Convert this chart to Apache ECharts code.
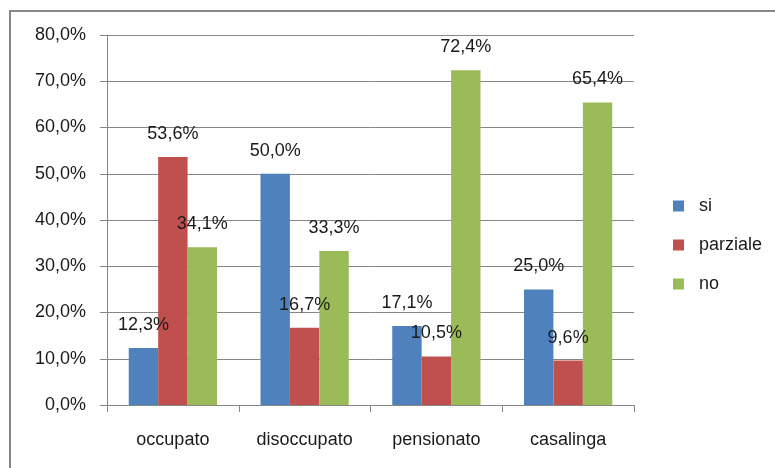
<!DOCTYPE html>
<html>
<head>
<meta charset="utf-8">
<script src="https://cdn.jsdelivr.net/npm/echarts@6/dist/echarts.min.js"></script>
<style>
  html, body { margin: 0; padding: 0; background: #fff; }
  #chart { width: 775px; height: 468px; }
</style>
</head>
<body>
<div id="chart"></div>
<script>
const categories = ['occupato', 'disoccupato', 'pensionato', 'casalinga'];
const si = [12.3, 50.0, 17.1, 25.0];
const parziale = [53.6, 16.7, 10.5, 9.6];
const no = [34.1, 33.3, 72.4, 65.4];

const fmt = v => v.toFixed(1).replace('.', ',') + '%';
const font = 'Liberation Sans, Arial, sans-serif';
const textColor = '#1a1a1a';
const lineColor = '#868686';

const makeSeries = (name, data, color) => ({
    name: name,
    type: 'bar',
    data: data,
    barGap: '0%',
    barCategoryGap: '33%',
    itemStyle: { color: color },
    label: {
        show: true,
        position: 'top',
        distance: 14,
        color: textColor,
        fontFamily: font,
        fontSize: 18,
        formatter: p => fmt(p.value)
    }
});

const chart = echarts.init(document.getElementById('chart'));
chart.setOption({
    animation: false,
    backgroundColor: '#fff',
    grid: { left: 107, right: 141, top: 35, bottom: 63 },
    graphic: [{
        type: 'rect',
        shape: { x: 10, y: 11, width: 800, height: 500 },
        style: { fill: 'none', stroke: lineColor, lineWidth: 2 },
        silent: true
    }],
    legend: {
        orient: 'vertical',
        left: 668,
        top: 192,
        itemWidth: 11,
        itemHeight: 11,
        itemGap: 21,
        icon: 'rect',
        data: ['si', 'parziale', 'no'],
        textStyle: { color: textColor, fontFamily: font, fontSize: 18, padding: [0, 0, 0, 10] }
    },
    xAxis: {
        type: 'category',
        data: categories,
        axisLine: { lineStyle: { color: lineColor } },
        axisTick: { show: true, length: 7, lineStyle: { color: lineColor } },
        axisLabel: { color: textColor, fontFamily: font, fontSize: 18, margin: 26 }
    },
    yAxis: {
        type: 'value',
        min: 0,
        max: 80,
        interval: 10,
        axisLine: { show: true, lineStyle: { color: lineColor } },
        axisTick: { show: true, length: 7, lineStyle: { color: lineColor } },
        splitLine: { lineStyle: { color: lineColor } },
        axisLabel: { color: textColor, fontFamily: font, fontSize: 18, margin: 21, formatter: fmt }
    },
    series: [
        makeSeries('si', si, '#4F81BD'),
        makeSeries('parziale', parziale, '#C0504D'),
        makeSeries('no', no, '#9BBB59')
    ]
});
</script>
</body>
</html>
